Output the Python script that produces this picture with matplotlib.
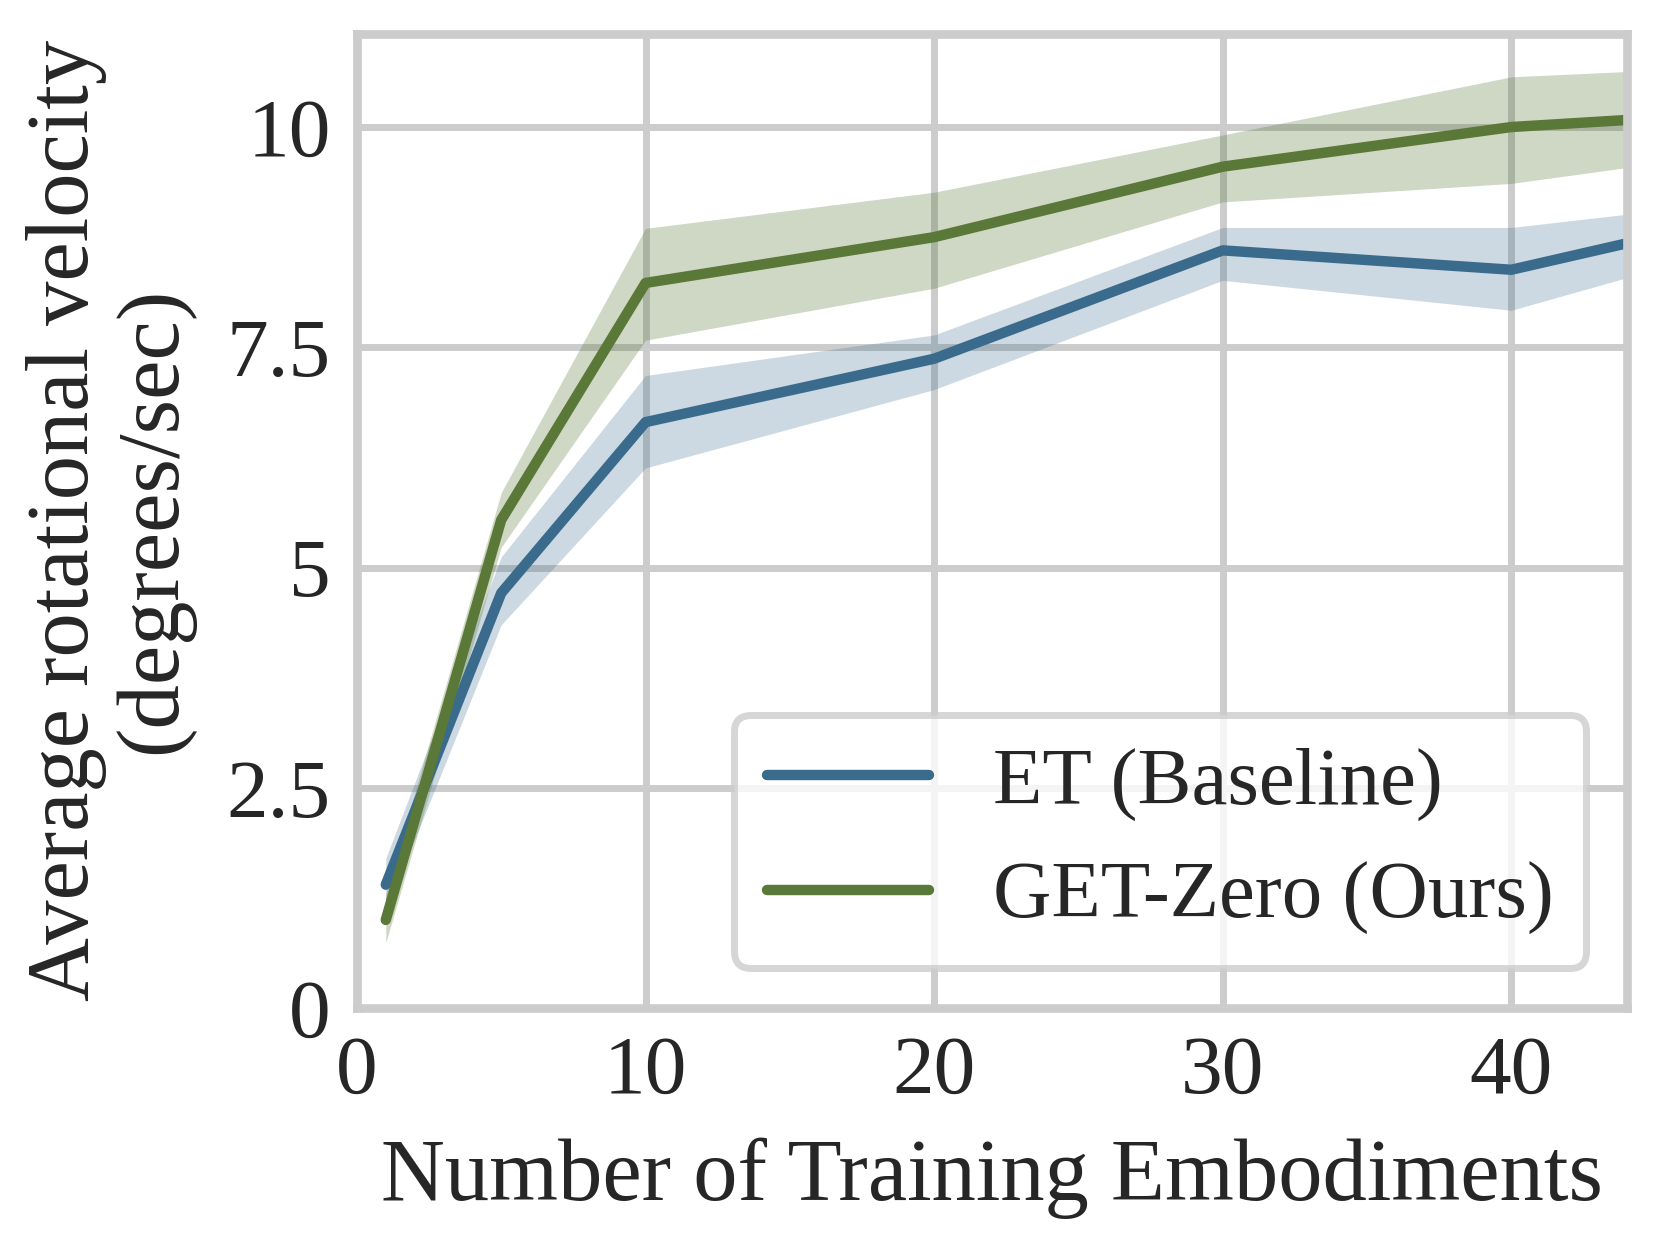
import matplotlib
matplotlib.use("Agg")
import matplotlib.pyplot as plt
import seaborn as sns

# data
embodiments = [1, 5, 10, 20, 30, 40, 44]

et_mean = [1.40, 4.71, 6.65, 7.37, 8.60, 8.38, 8.68]
et_low = [1.10, 4.35, 6.13, 7.02, 8.26, 7.92, 8.29]
et_high = [1.70, 5.12, 7.18, 7.64, 8.86, 8.86, 9.01]

gz_mean = [1.00, 5.54, 8.23, 8.75, 9.55, 10.00, 10.08]
gz_low = [0.74, 5.23, 7.58, 8.17, 9.15, 9.36, 9.54]
gz_high = [1.30, 5.85, 8.85, 9.26, 9.91, 10.57, 10.63]

y_ticks = [0, 2.5, 5, 7.5, 10]
y_tick_labels = ["0", "2.5", "5", "7.5", "10"]
x_ticks = [0, 10, 20, 30, 40]

BLUE = "#3a6b8c"
GREEN = "#5a7838"

sns.set_theme(style="whitegrid", context="poster")
plt.rcParams["font.family"] = ["Liberation Serif", "DejaVu Serif"]
plt.rcParams["axes.edgecolor"] = "#cccccc"

fig, ax = plt.subplots(figsize=(6.64, 4.984), dpi=250)
fig.subplots_adjust(left=0.215, right=0.980, top=0.973, bottom=0.191)

ax.fill_between(embodiments, et_low, et_high, color=BLUE, alpha=0.25, linewidth=0)
ax.plot(embodiments, et_mean, color=BLUE, lw=3, solid_capstyle="round",
        label="ET (Baseline)")
ax.fill_between(embodiments, gz_low, gz_high, color=GREEN, alpha=0.29, linewidth=0)
ax.plot(embodiments, gz_mean, color=GREEN, lw=3, solid_capstyle="round",
        label="GET-Zero (Ours)")

ax.set_xlim(0, 44)
ax.set_ylim(0, 11.06)
ax.set_xticks(x_ticks)
ax.set_yticks(y_ticks)
ax.set_yticklabels(y_tick_labels)
# ticks are hidden, so drop their length from the label offset
ax.tick_params(axis="x", labelsize=24, length=0, pad=8)
ax.tick_params(axis="y", labelsize=24, length=0, pad=7.5)

ax.set_xlabel("Number of Training Embodiments", fontsize=25.5, labelpad=7.5)
ax.set_ylabel("Average rotational velocity\n(degrees/sec)", fontsize=25.5,
              linespacing=1.1, labelpad=9.5)

ax.legend(loc="lower right", fontsize=23.3, frameon=True)

fig.savefig("out.png", dpi=250)
